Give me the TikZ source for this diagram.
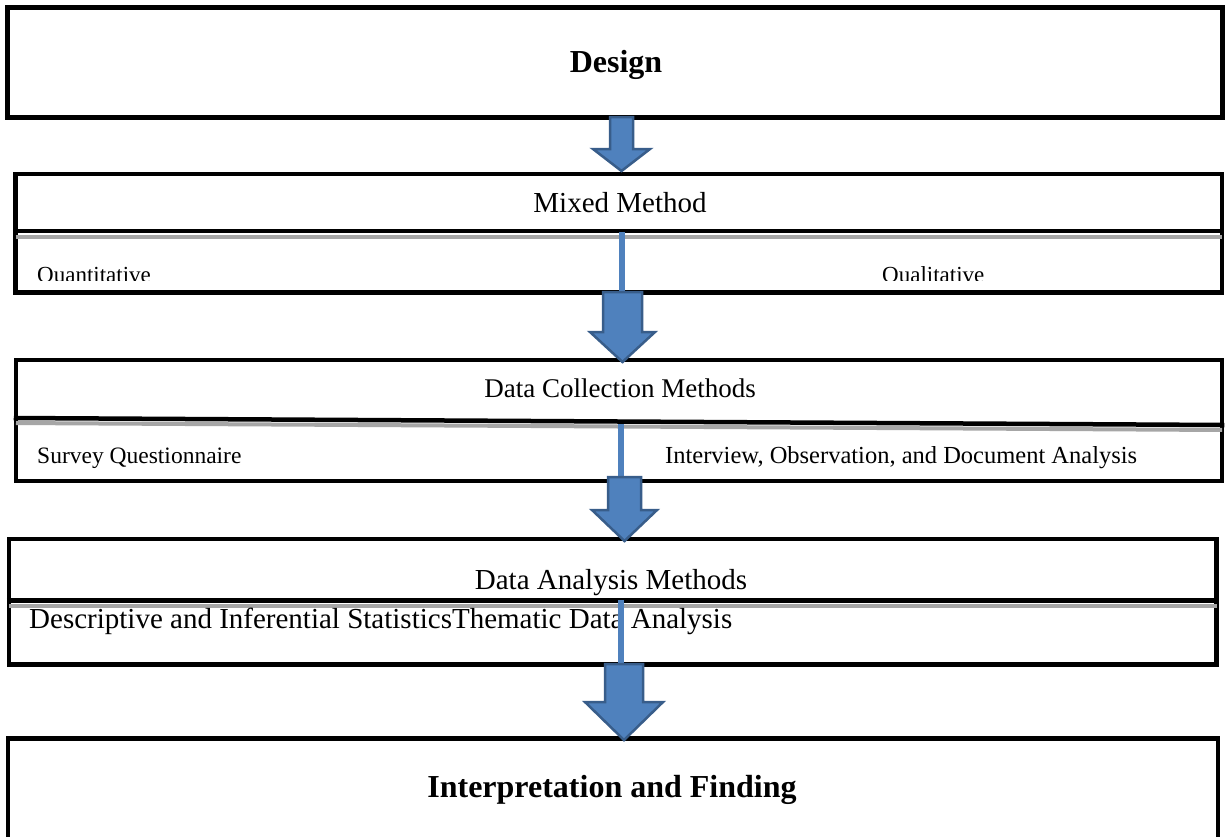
\documentclass[tikz,border=0pt]{standalone}
\usepackage{fontspec}
\setmainfont{Liberation Serif}
\definecolor{arrfill}{HTML}{4F81BD}
\definecolor{arrline}{HTML}{385D8A}
\definecolor{shade}{HTML}{A6A6A6}
\newcommand\blkarrow[6]{% x, ytop, ybase, ytip, shaft half, head half
  \draw[blockarrow] (#1-#5,#2) -- (#1+#5,#2) -- (#1+#5,#3) -- (#1+#6,#3) -- (#1,#4) -- (#1-#6,#3) -- (#1-#5,#3) -- cycle;}
\tikzset{
  box/.style={draw=black, line width=4.5pt, rectangle, inner sep=0pt, fill=white},
  divider/.style={draw=black, line width=4.5pt},
  dshade/.style={draw=shade, line width=4pt, shorten <=2.25pt, shorten >=2.25pt},
  blockarrow/.style={fill=arrfill, draw=arrline, line width=2.5pt, line join=miter},
  thinline/.style={draw=arrfill, line width=6pt},
  lbl/.style={inner sep=0pt, anchor=base},
  lblw/.style={inner sep=0pt, anchor=base west},
}
\begin{document}
\begin{tikzpicture}[x=1pt, y=-1pt]
\useasboundingbox (0,0) rectangle (1225,836);
\fill[white] (0,0) rectangle (1225,836);

% boxes
\node[box, line width=5pt, minimum width=1214.5pt, minimum height=110pt] (design) at (614.75,62.5) {};
\node[box, minimum width=1206.5pt, minimum height=118.5pt] (mixed) at (618.75,233.25) {};
\node[box, minimum width=1206pt, minimum height=121pt] (collect) at (619,420.5) {};
\node[box, minimum width=1207.5pt, minimum height=125.5pt] (analysis) at (612.75,601.75) {};
\node[box, minimum width=1210pt, minimum height=106.5pt] (interp) at (613,791.75) {};

% dividers with grey shadow lines
\draw[dshade] (mixed.west |- 0,236.5) -- (mixed.east |- 0,236.5);
\draw[divider] (mixed.west |- 0,231) -- (mixed.east |- 0,231);
\draw[dshade] (collect.west |- 0,423) -- (collect.east |- 0,430);
\draw[divider] (collect.west |- 0,418) -- (collect.east |- 0,425);
\draw[dshade] (analysis.west |- 0,605.5) -- (analysis.east |- 0,605.5);
\draw[divider] (analysis.west |- 0,600.5) -- (analysis.east |- 0,600.5);

% texts
\node[lbl, font=\fontsize{32}{38}\selectfont\bfseries] (tdesign) at (616,72) {Design};
\node[lbl, font=\fontsize{29}{34}\selectfont] (tmixed) at (620,212) {Mixed Method};
\begin{scope}
  \clip (0,240) rectangle (1225,280.5);
  \node[lblw, font=\fontsize{23}{28}\selectfont] (tquant) at (37,282) {Quantitative};
  \node[lblw, font=\fontsize{23}{28}\selectfont] (tqual) at (882,282) {Qualitative};
\end{scope}
\node[lbl, font=\fontsize{27}{32}\selectfont] (tcollect) at (620,397) {Data Collection Methods};
\node[lblw, font=\fontsize{23.5}{28}\selectfont] (tsurvey) at (37,463) {Survey Questionnaire};
\node[lblw, font=\fontsize{24.5}{29}\selectfont] (tinterview) at (665,463) {Interview, Observation, and Document Analysis};
\node[lbl, font=\fontsize{29}{34}\selectfont] (tanalysis) at (611,589) {Data Analysis Methods};
\node[lblw, font=\fontsize{29}{34}\selectfont] (tdesc) at (29,628) {Descriptive and Inferential StatisticsThematic Data Analysis};
\node[lbl, font=\fontsize{32}{38}\selectfont\bfseries] (tinterp) at (612,797) {Interpretation and Finding};

% thin connector lines
\coordinate (l1a) at (622,232); \coordinate (l1b) at (622,293);
\coordinate (l2a) at (621,424); \coordinate (l2b) at (621,478);
\coordinate (l3a) at (621,600); \coordinate (l3b) at (621,664);
\draw[thinline] (l1a) -- (l1b);
\draw[thinline] (l2a) -- (l2b);
\draw[thinline] (l3a) -- (l3b);

% block arrows
\blkarrow{621.5}{117}{149}{171}{11.5}{28.5}
\blkarrow{622.5}{292}{332}{362}{19.5}{32.5}
\blkarrow{624.5}{477}{510}{541}{16.5}{32.5}
\blkarrow{624}{664}{702}{740}{19}{39}
\end{tikzpicture}
\end{document}
